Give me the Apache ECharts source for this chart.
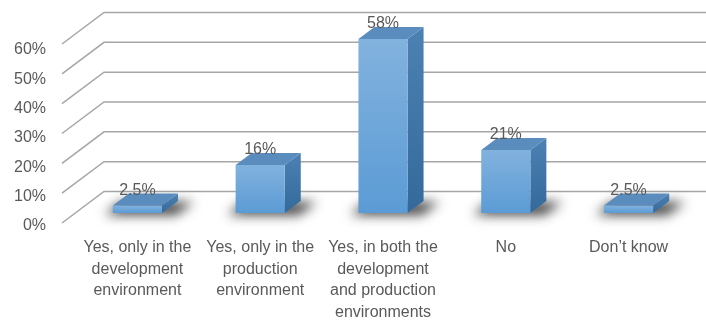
<!DOCTYPE html>
<html>
<head>
<meta charset="utf-8">
<script src="https://cdn.jsdelivr.net/npm/echarts@6/dist/echarts.min.js"></script>
<style>
  html, body { margin: 0; padding: 0; background: #fff; }
  #chart { width: 706px; height: 320px; }
</style>
</head>
<body>
<div id="chart"></div>
<script>
// Survey answers and their shares (percent)
const categories = [
  'Yes, only in the\ndevelopment\nenvironment',
  'Yes, only in the\nproduction\nenvironment',
  'Yes, in both the\ndevelopment\nand production\nenvironments',
  'No',
  'Don\u2019t know'
];
const shares = [2.5, 16, 58, 21, 2.5];
const tickValues = [0, 10, 20, 30, 40, 50, 60];

const FONT = '"Liberation Sans", Arial, sans-serif';
const TEXT = '#595959';
const GRID_LINE = '#a6a6a6';

// oblique depth offsets
const WALL_DX = 42, WALL_DY = -31.5;   // front edge -> back wall
const BAR_DX = 16, BAR_DY = -12;       // bar front face -> bar back face

const chart = echarts.init(document.getElementById('chart'), null, { renderer: 'canvas' });

function renderWall(params, api) {
  const p = api.coord([0, api.value(1)]);
  const bx = p[0] + WALL_DX, by = p[1] + WALL_DY;
  return {
    type: 'polyline',
    silent: true,
    shape: { points: [[p[0], p[1]], [bx, by], [706, by]] },
    style: { stroke: GRID_LINE, lineWidth: 1.5, fill: null }
  };
}

function renderBar(params, api) {
  const idx = api.value(0);
  const val = api.value(1);
  const top = api.coord([idx, val]);
  const base = api.coord([idx, 0]);
  const band = api.size([1, 0])[0];
  const w = band * 0.4;
  const l = top[0] - w / 2, r = top[0] + w / 2;
  const t = top[1], b = base[1];
  const SHIFT = 2000;

  // soft floor shadow, drawn through an offset canvas shadow
  const shadow = {
    type: 'polygon',
    silent: true,
    shape: {
      points: [
        [l - 8 - SHIFT, b + 2],
        [r + 14 - SHIFT, b + 2],
        [r + BAR_DX + 16 - SHIFT, b + BAR_DY + 1],
        [l + BAR_DX - 8 - SHIFT, b + BAR_DY + 1]
      ]
    },
    style: {
      fill: '#000',
      shadowBlur: 12,
      shadowColor: 'rgba(0,0,0,0.75)',
      shadowOffsetX: SHIFT,
      shadowOffsetY: 0
    }
  };

  const front = {
    type: 'rect',
    shape: { x: l, y: t, width: w, height: b - t },
    style: {
      fill: new echarts.graphic.LinearGradient(0, 0, 0, 1, [
        { offset: 0, color: '#82b2de' },
        { offset: 1, color: '#5b9bd5' }
      ])
    }
  };

  const side = {
    type: 'polygon',
    shape: { points: [[r, t], [r + BAR_DX, t + BAR_DY], [r + BAR_DX, b + BAR_DY], [r, b]] },
    style: {
      fill: new echarts.graphic.LinearGradient(0, 0, 0, 1, [
        { offset: 0, color: '#4b81b3' },
        { offset: 1, color: '#336a9b' }
      ])
    }
  };

  const cap = {
    type: 'polygon',
    shape: { points: [[l, t], [l + BAR_DX, t + BAR_DY], [r + BAR_DX, t + BAR_DY], [r, t]] },
    style: { fill: '#5a8cbe' }
  };

  const label = {
    type: 'text',
    silent: true,
    style: {
      x: top[0],
      y: t + BAR_DY + 5,
      text: (val % 1 === 0 ? val.toFixed(0) : String(val)) + '%',
      textAlign: 'center',
      textVerticalAlign: 'bottom',
      fill: TEXT,
      font: '16px ' + FONT
    }
  };

  return { type: 'group', children: [shadow, side, front, cap, label] };
}

const noBounds = { outerBoundsMode: 'none', containLabel: false };

chart.setOption({
  animation: false,
  backgroundColor: '#ffffff',
  grid: [
    // plane of the bars' front faces
    Object.assign({ left: 76, width: 614, top: 33, height: 180 }, noBounds),
    // front edge of the floor
    Object.assign({ left: 62, width: 10, top: 44, height: 179 }, noBounds),
    // value labels
    Object.assign({ left: 62, width: 10, top: 50, height: 176 }, noBounds)
  ],
  xAxis: [
    {
      type: 'category',
      gridIndex: 0,
      data: categories,
      axisLine: { show: false },
      axisTick: { show: false },
      splitLine: { show: false },
      axisLabel: {
        interval: 0,
        margin: 24,
        color: TEXT,
        fontFamily: FONT,
        fontSize: 16,
        lineHeight: 21.5,
        align: 'center'
      }
    },
    { type: 'value', gridIndex: 1, min: 0, max: 1, show: false },
    { type: 'value', gridIndex: 2, min: 0, max: 1, show: false }
  ],
  yAxis: [
    { type: 'value', gridIndex: 0, min: 0, max: 60, show: false },
    { type: 'value', gridIndex: 1, min: 0, max: 60, show: false },
    {
      type: 'value',
      gridIndex: 2,
      min: 0,
      max: 60,
      interval: 10,
      axisLine: { show: false },
      axisTick: { show: false },
      splitLine: { show: false },
      axisLabel: {
        formatter: '{value}%',
        margin: 16,
        color: TEXT,
        fontFamily: FONT,
        fontSize: 16
      }
    }
  ],
  series: [
    {
      type: 'custom',
      xAxisIndex: 1,
      yAxisIndex: 1,
      silent: true,
      renderItem: renderWall,
      data: tickValues.map(v => [0, v]),
      z: 1
    },
    {
      type: 'custom',
      xAxisIndex: 0,
      yAxisIndex: 0,
      renderItem: renderBar,
      data: shares.map((v, i) => [i, v]),
      z: 2
    }
  ]
});
</script>
</body>
</html>
